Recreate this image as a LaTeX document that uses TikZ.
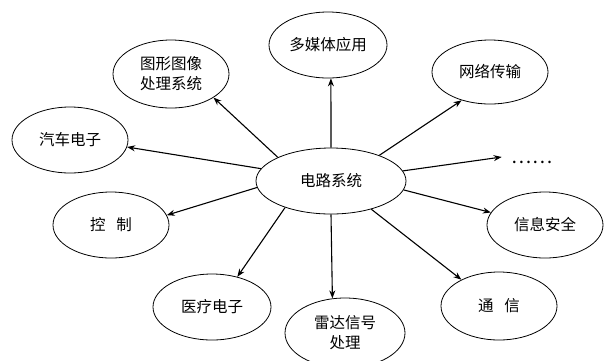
\documentclass[tikz,border=0pt]{standalone}
\usepackage{fontspec}
\newfontfamily\cjk{Noto Sans CJK SC}
\usetikzlibrary{shapes.geometric,arrows.meta}
\begin{document}
\begin{tikzpicture}[x=1pt,y=-1pt,
  bub/.style={ellipse,draw=black,line width=0.8pt,minimum width=116pt,minimum height=66pt,
    inner sep=0pt,font=\cjk\fontsize{15.5}{20}\selectfont,align=center},
  link/.style={line width=1.1pt,-{Stealth[length=8pt,width=6pt]}}]
\useasboundingbox (0,0) rectangle (607,360);
\node[bub,minimum width=150pt] (c) at (331,181) {电路系统};
\node[bub,minimum width=118pt] (mm) at (328,45) {多媒体应用};
\node[bub,minimum height=68pt] (tx) at (171,74) {图形图像\\处理系统};
\node[bub,minimum height=64pt] (net) at (490,72) {网络传输};
\node[bub] (car) at (70,140) {汽车电子};
\node[bub] (ctl) at (111,225) {控\hspace{0.7em}制};
\node[bub] (sec) at (545,225) {信息安全};
\node[bub,minimum width=118pt] (med) at (212,307) {医疗电子};
\node[bub,minimum width=120pt,minimum height=70pt] (rad) at (345,333) {雷达信号\\处理};
\node[bub,minimum height=68pt] (com) at (499,306) {通\hspace{0.7em}信};
\node[font=\cjk\fontsize{19}{20}\selectfont,inner sep=0pt] (dots) at (532,162) {……};
\draw[link] (c.90) -- (mm.275);
\draw[link] (c.156) -- (tx.-29);
\draw[link] (c.170) -- (car.-7);
\draw[link] (c.185) -- (ctl.10);
\draw[link] (c.210) -- (med.50);
\draw[link] (c.270) -- (rad.110);
\draw[link] (c.-35) -- (com.145);
\draw[link] (c.-7) -- (sec.167);
\draw[link] (c.8) -- ([xshift=-10pt,yshift=5pt]dots.west);
\draw[link] (c.28) -- (net.225);
\end{tikzpicture}
\end{document}
